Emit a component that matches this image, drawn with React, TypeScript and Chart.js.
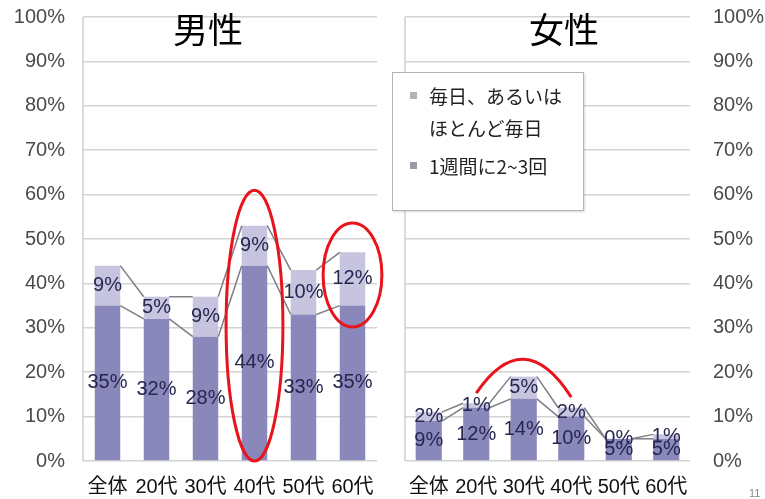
import React, { useEffect, useRef } from "react";
import { Chart, registerables } from "chart.js";

Chart.register(...registerables);

// ---- data ----
const categories = ["全体", "20代", "30代", "40代", "50代", "60代"];
const maleWeekly = [35, 32, 28, 44, 33, 35];
const maleDaily = [9, 5, 9, 9, 10, 12];
const femaleWeekly = [9, 12, 14, 10, 5, 5];
const femaleDaily = [2, 1, 5, 2, 0, 1];
const yTickValues = [0, 10, 20, 30, 40, 50, 60, 70, 80, 90, 100];
const seriesDaily = ["毎日、あるいは", "ほとんど毎日"];
const seriesWeekly = "1週間に2~3回";
const panelTitles = ["男性", "女性"];

const DARK = "#8a87bb";
const LIGHT = "#c6c4de";
const LABEL_COLOR = "#26264f";
const FONT_LATIN = "'Liberation Sans', 'Noto Sans CJK JP', sans-serif";
const FONT_CJK = "'Noto Sans CJK JP', 'Liberation Sans', sans-serif";

type Ellipse = { cat: number; yTop: number; yBottom: number; rxCat: number };
type Arc = { c0: number; y0: number; cc: number; yc: number; c1: number; y1: number };

// annotations (value space)
const maleEllipses: Ellipse[] = [
  { cat: 3, yTop: 61, yBottom: 0, rxCat: 0.58 },
  { cat: 5, yTop: 53.6, yBottom: 30.2, rxCat: 0.6 },
];
const femaleArcs: Arc[] = [{ c0: 1, y0: 15.3, cc: 2, yc: 31, c1: 3, y1: 14.4 }];

const extrasPlugin = {
  id: "extras",
  afterDatasetsDraw(chart: any, _args: any, opts: any) {
    const ctx = chart.ctx;
    const area = chart.chartArea;
    const xs = chart.scales.x;
    const ys = chart.scales.y;
    ctx.save();
    // left vertical axis line
    ctx.strokeStyle = "#cfcfcf";
    ctx.lineWidth = 1.5;
    ctx.beginPath();
    ctx.moveTo(area.left, area.top);
    ctx.lineTo(area.left, area.bottom);
    ctx.stroke();

    // series lines
    ctx.strokeStyle = "#7e7e86";
    ctx.lineWidth = 1.5;
    chart.data.datasets.forEach((_ds: any, d: number) => {
      const meta = chart.getDatasetMeta(d);
      for (let i = 0; i < meta.data.length - 1; i++) {
        const a = meta.data[i];
        const b = meta.data[i + 1];
        ctx.beginPath();
        ctx.moveTo(a.x + a.width / 2, a.y);
        ctx.lineTo(b.x - b.width / 2, b.y);
        ctx.stroke();
      }
    });

    // data labels
    ctx.fillStyle = LABEL_COLOR;
    ctx.font = `20px ${FONT_LATIN}`;
    ctx.textAlign = "center";
    ctx.textBaseline = "middle";
    chart.data.datasets.forEach((ds: any, d: number) => {
      const meta = chart.getDatasetMeta(d);
      meta.data.forEach((el: any, i: number) => {
        ctx.fillText(`${ds.data[i]}%`, el.x, (el.y + el.base) / 2);
      });
    });

    // red annotations
    const catW = xs.getPixelForValue(1) - xs.getPixelForValue(0);
    ctx.strokeStyle = "#e8141c";
    ctx.lineWidth = 3;
    (opts.ellipses || []).forEach((e: Ellipse) => {
      const cx = xs.getPixelForValue(e.cat);
      const top = ys.getPixelForValue(e.yTop);
      const bot = ys.getPixelForValue(e.yBottom);
      ctx.beginPath();
      ctx.ellipse(cx, (top + bot) / 2, e.rxCat * catW, (bot - top) / 2, 0, 0, Math.PI * 2);
      ctx.stroke();
    });
    (opts.arcs || []).forEach((a: Arc) => {
      ctx.beginPath();
      ctx.moveTo(xs.getPixelForValue(a.c0), ys.getPixelForValue(a.y0));
      ctx.quadraticCurveTo(
        xs.getPixelForValue(a.cc),
        ys.getPixelForValue(a.yc),
        xs.getPixelForValue(a.c1),
        ys.getPixelForValue(a.y1)
      );
      ctx.stroke();
    });
    ctx.restore();
  },
};

function makeConfig(
  weekly: number[],
  daily: number[],
  side: "left" | "right",
  barPct: number,
  annotations: any
): any {
  return {
    type: "bar",
    data: {
      labels: categories,
      datasets: [
        {
          label: seriesWeekly,
          data: weekly,
          backgroundColor: DARK,
          barPercentage: barPct,
          categoryPercentage: 1,
        },
        {
          label: seriesDaily.join(""),
          data: daily,
          backgroundColor: LIGHT,
          barPercentage: barPct,
          categoryPercentage: 1,
        },
      ],
    },
    options: {
      responsive: false,
      animation: false,
      devicePixelRatio: 1,
      layout: {
        padding:
          side === "left"
            ? { top: 17, right: 15, left: 0, bottom: 0 }
            : { top: 17, right: 0, left: 13, bottom: 0 },
      },
      plugins: {
        legend: { display: false },
        tooltip: { enabled: false },
        title: { display: false },
        extras: annotations,
      },
      scales: {
        x: {
          stacked: true,
          grid: { display: false, drawTicks: false },
          border: { display: false },
          ticks: {
            color: "#111",
            font: { family: FONT_LATIN, size: 20 },
            padding: 14,
            maxRotation: 0,
            autoSkip: false,
          },
          afterFit: (s: any) => {
            s.height = 38;
          },
        },
        y: {
          stacked: true,
          position: side,
          min: 0,
          max: 100,
          afterBuildTicks: (s: any) => {
            s.ticks = yTickValues.map((v) => ({ value: v }));
          },
          grid: {
            color: "#d3d3d3",
            lineWidth: 1.5,
            drawTicks: true,
            tickLength: side === "left" ? 18 : 23,
            tickColor: "rgba(0,0,0,0)",
          },
          border: { display: false },
          ticks: {
            color: "#4a4a4a",
            font: { family: FONT_LATIN, size: 20 },
            padding: 0,
            callback: (v: any) => `${v}%`,
          },
          afterFit: (s: any) => {
            s.width = side === "left" ? 83 : 75;
          },
        },
      },
    },
    plugins: [extrasPlugin],
  };
}

function Panel(props: { left: number; width: number; config: () => any }) {
  const ref = useRef<HTMLCanvasElement | null>(null);
  useEffect(() => {
    if (!ref.current) return;
    const chart = new Chart(ref.current, props.config());
    return () => chart.destroy();
  }, []);
  return (
    <canvas
      ref={ref}
      width={props.width}
      height={499}
      style={{ position: "absolute", left: props.left, top: 0, width: props.width, height: 499, display: "block" }}
    />
  );
}

export default function App() {
  return (
    <div
      style={{
        position: "absolute",
        left: 0,
        top: 0,
        width: 765,
        height: 499,
        background: "#fff",
        overflow: "hidden",
      }}
    >
      <Panel
        left={0}
        width={392}
        config={() => makeConfig(maleWeekly, maleDaily, "left", 0.52, { ellipses: maleEllipses, arcs: [] })}
      />
      <Panel
        left={392}
        width={373}
        config={() => makeConfig(femaleWeekly, femaleDaily, "right", 0.55, { ellipses: [], arcs: femaleArcs })}
      />
      <div
        style={{
          position: "absolute",
          left: 208,
          top: 9,
          transform: "translateX(-50%)",
          fontFamily: FONT_CJK,
          fontSize: 35,
          lineHeight: "38px",
          color: "#000",
          whiteSpace: "nowrap",
        }}
      >
        {panelTitles[0]}
      </div>
      <div
        style={{
          position: "absolute",
          left: 564,
          top: 9,
          transform: "translateX(-50%)",
          fontFamily: FONT_CJK,
          fontSize: 35,
          lineHeight: "38px",
          color: "#000",
          whiteSpace: "nowrap",
        }}
      >
        {panelTitles[1]}
      </div>
      <div
        style={{
          position: "absolute",
          left: 392,
          top: 72,
          width: 190,
          height: 137,
          border: "1.5px solid #b4b4b4",
          background: "#fff",
          boxShadow: "1px 1px 2px rgba(0,0,0,0.15)",
          fontFamily: FONT_CJK,
          fontSize: 19,
          color: "#222",
        }}
      >
        <div style={{ position: "absolute", left: 17, top: 19, width: 7, height: 7, background: "#b2b2bc" }} />
        <div style={{ position: "absolute", left: 36, top: 7, lineHeight: "32px", whiteSpace: "nowrap" }}>
          {seriesDaily[0]}
          <br />
          {seriesDaily[1]}
        </div>
        <div style={{ position: "absolute", left: 17, top: 89, width: 7, height: 7, background: "#9a9aa8" }} />
        <div style={{ position: "absolute", left: 36, top: 77, lineHeight: "32px", whiteSpace: "nowrap" }}>
          {seriesWeekly}
        </div>
      </div>
      <div
        style={{
          position: "absolute",
          left: 749,
          top: 487,
          fontFamily: FONT_LATIN,
          fontSize: 11,
          color: "#888",
        }}
      >
        11
      </div>
    </div>
  );
}
